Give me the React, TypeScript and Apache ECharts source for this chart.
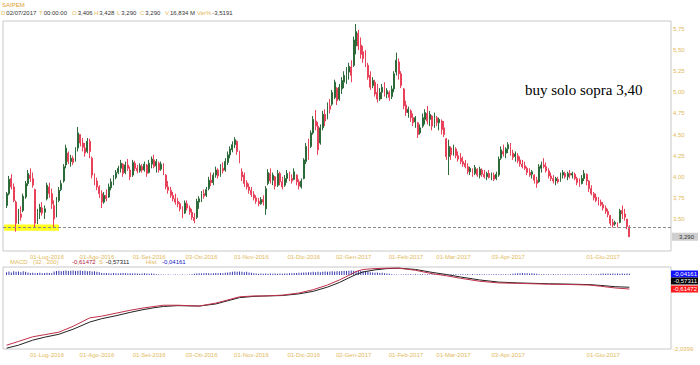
import React, { useEffect, useRef } from 'react';
import * as echarts from 'echarts';

// ---------------- data ----------------
const startDate = '2016-06-08';
const holidays = ['2016-08-15', '2016-12-26', '2017-04-14', '2017-04-17', '2017-05-01'];
const padAfter = 17;
const labelDates = ['2016-07-01', '2016-08-01', '2016-09-01', '2016-10-03', '2016-11-01', '2016-12-01', '2017-01-02', '2017-02-01', '2017-03-01', '2017-04-03', '2017-06-01'];
const monthsIt = ['Gen', 'Feb', 'Mar', 'Apr', 'Mag', 'Giu', 'Lug', 'Ago', 'Set', 'Ott', 'Nov', 'Dic'];
const priceTicks = [3.5, 3.75, 4.0, 4.25, 4.5, 4.75, 5.0, 5.25, 5.5, 5.75];
const macdTicks = [-2.0399];
const buyLevel = 3.40;
const lastClose = 3.29;

// [open, close, low, high]
const ohlc: number[][] = [
  [3.66, 3.80, 3.63, 3.82], [3.80, 3.97, 3.78, 4.01], [3.98, 3.88, 3.85, 4.03], [3.88, 3.72, 3.70, 3.92], [3.70, 3.45, 3.35, 3.72],
  [3.47, 3.58, 3.44, 3.62], [3.56, 3.52, 3.48, 3.65], [3.60, 3.77, 3.58, 3.80], [3.76, 3.92, 3.74, 3.95], [3.92, 4.04, 3.89, 4.08],
  [4.02, 3.98, 3.94, 4.10], [3.98, 3.90, 3.87, 4.05], [3.85, 3.45, 3.40, 3.86], [3.47, 3.58, 3.44, 3.62], [3.58, 3.64, 3.50, 3.68],
  [3.63, 3.57, 3.54, 3.70], [3.58, 3.62, 3.50, 3.66], [3.74, 3.90, 3.72, 3.93], [3.88, 3.80, 3.75, 3.93], [3.80, 3.68, 3.62, 3.86],
  [3.66, 3.50, 3.40, 3.72], [3.55, 3.72, 3.52, 3.76], [3.72, 3.84, 3.70, 3.88], [3.85, 3.92, 3.83, 3.96], [3.95, 4.12, 3.93, 4.15],
  [4.14, 4.34, 4.10, 4.38], [4.28, 4.18, 4.15, 4.30], [4.18, 4.22, 4.12, 4.26], [4.22, 4.17, 4.14, 4.25], [4.20, 4.33, 4.18, 4.35],
  [4.34, 4.52, 4.30, 4.59], [4.50, 4.40, 4.36, 4.50], [4.40, 4.35, 4.30, 4.46], [4.34, 4.28, 4.24, 4.40], [4.30, 4.42, 4.28, 4.46],
  [4.42, 4.30, 4.22, 4.45], [4.22, 4.02, 3.98, 4.24], [4.02, 3.94, 3.90, 4.04], [3.95, 3.88, 3.84, 3.99], [3.88, 3.80, 3.75, 3.90],
  [3.80, 3.70, 3.63, 3.84], [3.70, 3.78, 3.68, 3.82], [3.78, 3.74, 3.71, 3.85], [3.76, 3.88, 3.75, 3.92], [3.87, 3.94, 3.84, 3.98],
  [3.93, 3.99, 3.90, 4.02], [3.99, 4.05, 3.97, 4.08], [4.05, 4.10, 4.03, 4.13], [4.10, 4.16, 4.05, 4.20], [4.15, 4.04, 4.00, 4.16],
  [4.05, 4.14, 4.03, 4.18], [4.14, 4.10, 4.07, 4.21], [4.08, 4.00, 3.96, 4.12], [4.02, 4.17, 4.00, 4.20], [4.16, 4.10, 4.07, 4.19],
  [4.10, 4.07, 4.04, 4.14], [4.07, 4.13, 4.05, 4.16], [4.12, 4.08, 4.05, 4.15], [4.08, 4.15, 4.06, 4.18], [4.14, 4.04, 4.00, 4.15],
  [4.05, 4.16, 4.04, 4.20], [4.15, 4.21, 4.10, 4.24], [4.20, 4.12, 4.10, 4.26], [4.13, 4.18, 4.05, 4.21], [4.16, 4.08, 4.05, 4.18],
  [4.09, 4.15, 4.07, 4.18], [4.14, 4.05, 4.02, 4.16], [4.02, 3.88, 3.85, 4.03], [3.88, 3.84, 3.80, 3.95], [3.84, 3.78, 3.75, 3.88],
  [3.78, 3.74, 3.71, 3.82], [3.74, 3.70, 3.67, 3.80], [3.71, 3.68, 3.64, 3.75], [3.68, 3.62, 3.59, 3.70], [3.62, 3.56, 3.51, 3.65],
  [3.57, 3.69, 3.56, 3.72], [3.68, 3.63, 3.60, 3.72], [3.63, 3.58, 3.55, 3.66], [3.58, 3.52, 3.49, 3.62], [3.52, 3.48, 3.45, 3.57],
  [3.52, 3.71, 3.50, 3.74], [3.70, 3.74, 3.62, 3.77], [3.73, 3.80, 3.70, 3.83], [3.80, 3.77, 3.74, 3.85], [3.78, 3.85, 3.76, 3.88],
  [3.86, 3.96, 3.84, 4.00], [3.96, 3.93, 3.89, 4.05], [3.93, 4.02, 3.90, 4.05], [4.02, 4.08, 3.99, 4.12], [4.08, 4.01, 3.98, 4.10],
  [4.02, 4.11, 4.00, 4.15], [4.10, 4.07, 4.04, 4.17], [4.08, 4.18, 4.06, 4.22], [4.17, 4.26, 4.14, 4.30], [4.26, 4.33, 4.22, 4.36],
  [4.32, 4.38, 4.29, 4.42], [4.38, 4.44, 4.34, 4.47], [4.42, 4.30, 4.26, 4.43], [4.30, 4.18, 4.16, 4.31], [4.06, 4.00, 3.95, 4.10],
  [4.02, 3.92, 3.88, 4.05], [3.93, 3.88, 3.85, 3.96], [3.88, 3.84, 3.80, 3.92], [3.84, 3.79, 3.76, 3.88], [3.79, 3.75, 3.72, 3.83],
  [3.75, 3.71, 3.68, 3.78], [3.71, 3.68, 3.65, 3.75], [3.68, 3.73, 3.67, 3.76], [3.73, 3.70, 3.66, 3.78], [3.62, 3.86, 3.55, 3.89],
  [3.92, 4.05, 3.90, 4.09], [4.04, 3.95, 3.92, 4.10], [3.96, 4.02, 3.90, 4.05], [4.00, 3.89, 3.85, 4.01], [3.90, 4.04, 3.88, 4.08],
  [4.04, 3.94, 3.90, 4.06], [3.94, 3.88, 3.85, 4.00], [3.90, 3.98, 3.88, 4.02], [3.98, 4.04, 3.93, 4.08], [4.03, 3.98, 3.95, 4.06],
  [3.98, 3.95, 3.92, 4.03], [3.97, 4.06, 3.96, 4.10], [4.02, 3.94, 3.90, 4.03], [3.94, 3.89, 3.85, 3.97], [3.88, 3.95, 3.86, 3.98],
  [3.98, 4.20, 3.97, 4.22], [4.18, 4.36, 4.15, 4.40], [4.35, 4.24, 4.20, 4.45], [4.36, 4.52, 4.34, 4.55], [4.52, 4.68, 4.50, 4.72],
  [4.66, 4.60, 4.55, 4.79], [4.60, 4.32, 4.26, 4.65], [4.40, 4.58, 4.38, 4.62], [4.58, 4.74, 4.55, 4.78], [4.74, 4.66, 4.60, 4.80],
  [4.70, 4.84, 4.68, 4.88], [4.84, 4.80, 4.75, 4.92], [4.86, 5.00, 4.84, 5.03], [4.94, 5.12, 4.92, 5.15], [5.05, 4.90, 4.85, 5.06],
  [4.92, 5.06, 4.90, 5.10], [5.04, 5.14, 4.98, 5.18], [5.12, 5.20, 5.05, 5.25], [5.20, 5.26, 5.10, 5.30], [5.24, 5.31, 5.15, 5.35],
  [5.30, 5.20, 5.12, 5.38], [5.32, 5.62, 5.30, 5.66], [5.55, 5.72, 5.45, 5.81], [5.70, 5.55, 5.50, 5.74], [5.56, 5.45, 5.40, 5.65],
  [5.48, 5.40, 5.35, 5.55], [5.42, 5.34, 5.30, 5.50], [5.32, 5.18, 5.15, 5.35], [5.20, 5.06, 5.03, 5.25], [5.08, 5.14, 5.05, 5.18],
  [5.12, 4.98, 4.95, 5.15], [5.00, 4.92, 4.88, 5.10], [4.92, 5.00, 4.90, 5.05], [5.00, 5.06, 4.92, 5.10], [5.05, 4.98, 4.95, 5.12],
  [4.98, 5.02, 4.93, 5.05], [5.00, 4.94, 4.90, 5.02], [4.95, 5.04, 4.92, 5.08], [5.04, 5.22, 5.00, 5.25], [5.24, 5.38, 5.20, 5.47],
  [5.36, 5.22, 5.15, 5.40], [5.22, 5.08, 5.05, 5.25], [5.04, 4.84, 4.80, 5.05], [4.85, 4.76, 4.72, 4.90], [4.76, 4.80, 4.70, 4.83],
  [4.78, 4.70, 4.65, 4.80], [4.70, 4.64, 4.60, 4.75], [4.65, 4.70, 4.58, 4.72], [4.64, 4.50, 4.46, 4.65], [4.52, 4.58, 4.50, 4.62],
  [4.60, 4.70, 4.58, 4.75], [4.68, 4.76, 4.62, 4.80], [4.75, 4.66, 4.62, 4.84], [4.68, 4.74, 4.60, 4.78], [4.72, 4.60, 4.55, 4.73],
  [4.62, 4.72, 4.58, 4.76], [4.70, 4.64, 4.60, 4.72], [4.64, 4.68, 4.55, 4.70], [4.66, 4.56, 4.50, 4.68], [4.58, 4.50, 4.47, 4.66],
  [4.45, 4.24, 4.20, 4.46], [4.24, 4.36, 4.02, 4.44], [4.34, 4.26, 4.20, 4.36], [4.27, 4.34, 4.25, 4.38], [4.33, 4.25, 4.22, 4.35],
  [4.25, 4.21, 4.18, 4.30], [4.22, 4.18, 4.15, 4.28], [4.18, 4.15, 4.12, 4.24], [4.16, 4.12, 4.10, 4.20], [4.12, 4.06, 4.03, 4.16],
  [4.06, 4.10, 4.02, 4.12], [4.08, 4.03, 4.00, 4.10], [4.04, 4.11, 4.02, 4.14], [4.09, 4.02, 4.00, 4.10], [4.02, 4.09, 3.98, 4.12],
  [4.08, 4.03, 4.00, 4.10], [4.03, 4.00, 3.98, 4.08], [4.00, 4.04, 3.96, 4.06], [4.04, 3.99, 3.98, 4.08], [4.00, 4.03, 3.96, 4.05],
  [4.02, 3.97, 3.95, 4.05], [3.98, 4.03, 3.96, 4.06], [4.02, 4.21, 4.00, 4.24], [4.22, 4.32, 4.20, 4.36], [4.30, 4.27, 4.24, 4.38],
  [4.28, 4.33, 4.22, 4.35], [4.33, 4.38, 4.28, 4.41], [4.36, 4.27, 4.25, 4.40], [4.28, 4.23, 4.20, 4.32], [4.24, 4.27, 4.18, 4.30],
  [4.25, 4.19, 4.16, 4.28], [4.20, 4.15, 4.12, 4.24], [4.15, 4.12, 4.10, 4.20], [4.13, 4.10, 4.08, 4.18], [4.10, 4.05, 4.02, 4.12],
  [4.05, 4.02, 4.00, 4.10], [4.03, 4.06, 3.98, 4.08], [4.02, 3.96, 3.92, 4.03], [3.96, 3.92, 3.87, 4.00], [3.94, 4.12, 3.93, 4.15],
  [4.10, 4.14, 4.05, 4.18], [4.14, 4.12, 4.10, 4.22], [4.12, 4.07, 4.05, 4.17], [4.07, 4.01, 3.98, 4.10], [4.01, 3.98, 3.95, 4.05],
  [3.98, 3.95, 3.92, 4.02], [3.95, 3.98, 3.90, 4.00], [3.97, 3.94, 3.92, 4.00], [3.95, 4.02, 3.94, 4.05], [4.02, 4.05, 3.98, 4.08],
  [4.04, 4.00, 3.98, 4.06], [4.00, 4.04, 3.96, 4.06], [4.04, 4.02, 3.98, 4.08], [4.02, 4.04, 3.98, 4.06], [4.03, 3.98, 3.96, 4.05],
  [3.98, 3.93, 3.90, 4.00], [3.93, 3.90, 3.88, 3.98], [3.92, 3.98, 3.91, 4.02], [3.98, 4.04, 3.95, 4.08], [4.03, 3.95, 3.90, 4.04],
  [3.95, 3.86, 3.82, 3.96], [3.86, 3.80, 3.78, 3.90], [3.80, 3.75, 3.72, 3.82], [3.76, 3.72, 3.70, 3.80], [3.73, 3.69, 3.66, 3.76],
  [3.70, 3.67, 3.65, 3.73], [3.67, 3.63, 3.60, 3.70], [3.63, 3.59, 3.56, 3.66], [3.59, 3.55, 3.52, 3.62], [3.54, 3.45, 3.42, 3.55],
  [3.46, 3.43, 3.40, 3.50], [3.44, 3.46, 3.42, 3.48], [3.45, 3.42, 3.40, 3.46], [3.46, 3.60, 3.45, 3.62], [3.60, 3.56, 3.50, 3.66],
  [3.56, 3.52, 3.48, 3.62], [3.50, 3.41, 3.38, 3.50], [3.406, 3.29, 3.29, 3.428],
];

// [bar index, value]
const macdPts: number[][] = [
  [0, -1.95], [5, -1.86], [11, -1.75], [16, -1.70], [22, -1.64], [28, -1.50], [35, -1.30], [40, -1.26], [46, -1.19],
  [52, -1.12], [57, -1.07], [62, -1.03], [66, -1.00], [72, -1.00], [81, -1.02], [88, -0.95], [98, -0.80], [104, -0.78],
  [109, -0.78], [116, -0.76], [123, -0.71], [129, -0.63], [135, -0.52], [140, -0.40], [144, -0.29], [147, -0.20],
  [150, -0.15], [155, -0.13], [160, -0.12], [165, -0.12], [172, -0.17], [179, -0.25], [185, -0.30], [191, -0.36],
  [199, -0.43], [207, -0.47], [215, -0.48], [228, -0.50], [238, -0.51], [245, -0.52], [250, -0.55], [256, -0.59], [262, -0.61472],
];
const signalPts: number[][] = [
  [0, -2.02], [5, -1.95], [11, -1.83], [16, -1.76], [22, -1.69], [28, -1.57], [35, -1.40], [40, -1.32], [46, -1.25],
  [52, -1.17], [57, -1.11], [62, -1.06], [66, -1.03], [72, -1.01], [81, -1.02], [88, -0.97], [98, -0.82], [104, -0.79],
  [109, -0.78], [116, -0.77], [123, -0.73], [129, -0.67], [135, -0.57], [140, -0.46], [144, -0.35], [147, -0.27],
  [150, -0.21], [155, -0.16], [160, -0.13], [165, -0.12], [172, -0.15], [179, -0.22], [185, -0.27], [191, -0.33],
  [199, -0.40], [207, -0.45], [215, -0.47], [228, -0.49], [238, -0.50], [245, -0.51], [250, -0.53], [256, -0.56], [262, -0.57311],
];
// histogram magnitude per bar
const hist: number[] = [
  0.10, 0.12, 0.09, 0.13, 0.11, 0.12, 0.10, 0.13, 0.11, 0.09,
  0.07, 0.08, 0.06, 0.07, 0.08, 0.06, 0.07, 0.08, 0.07, 0.06,
  0.12, 0.14, 0.15, 0.13, 0.15, 0.16, 0.14, 0.15, 0.16, 0.14,
  0.15, 0.16, 0.14, 0.15, 0.13, 0.14, 0.12, 0.13, 0.11, 0.10,
  0.07, 0.06, 0.07, 0.06, 0.05, 0.07, 0.06, 0.05, 0.06, 0.07,
  0.06, 0.05, 0.06, 0.05, 0.06, 0.05, 0.04, 0.05, 0.06, 0.05,
  0.04, 0.05, 0.04, 0.03, 0.02, 0.02, 0.02, 0.01, 0.02, 0.01,
  0.01, 0.02, 0.01, 0.01, 0.02, 0.01, 0.01, 0.02, 0.03, 0.04,
  0.05, 0.06, 0.05, 0.06, 0.07, 0.06, 0.05, 0.06, 0.07, 0.06,
  0.07, 0.06, 0.08, 0.09, 0.10, 0.11, 0.12, 0.11, 0.12, 0.11,
  0.10, 0.11, 0.09, 0.08, 0.06, 0.05, 0.04, 0.05, 0.04, 0.05,
  0.04, 0.05, 0.04, 0.05, 0.04, 0.05, 0.04, 0.05, 0.05, 0.06,
  0.06, 0.07, 0.07, 0.08, 0.08, 0.09, 0.09, 0.10, 0.10, 0.11,
  0.10, 0.11, 0.10, 0.11, 0.12, 0.11, 0.12, 0.13, 0.12, 0.13,
  0.13, 0.14, 0.15, 0.14, 0.15, 0.16, 0.15, 0.14, 0.15, 0.14,
  0.13, 0.14, 0.12, 0.10, 0.09, 0.08, 0.09, 0.07, 0.08, 0.06,
  0.05, 0.04, 0.03, 0.02, 0.02, 0.01, 0.02, 0.02, 0.03, 0.02,
  0.03, 0.02, 0.03, 0.02, 0.03, 0.03, 0.02, 0.03, 0.02, 0.03,
  0.03, 0.02, 0.03, 0.03, 0.02, 0.03, 0.02, 0.03, 0.02, 0.03,
  0.02, 0.03, 0.03, 0.02, 0.03, 0.02, 0.03, 0.02, 0.03, 0.03,
  0.02, 0.03, 0.02, 0.03, 0.02, 0.03, 0.03, 0.02, 0.03, 0.02,
  0.03, 0.02, 0.03, 0.04, 0.05, 0.06, 0.06, 0.07, 0.06, 0.06,
  0.05, 0.06, 0.05, 0.04, 0.03, 0.02, 0.03, 0.02, 0.03, 0.02,
  0.03, 0.02, 0.03, 0.02, 0.02, 0.03, 0.02, 0.03, 0.02, 0.02,
  0.03, 0.02, 0.03, 0.02, 0.03, 0.02, 0.03, 0.02, 0.03, 0.03,
  0.04, 0.05, 0.04, 0.05, 0.04, 0.05, 0.04, 0.05, 0.04, 0.05,
  0.04, 0.05, 0.04,
];

const headerItems = [
  { k: 'D', v: '02/07/2017', x: 1 },
  { k: 'T', v: '00:00:00', x: 39 },
  { k: 'O', v: '3,406', x: 72 },
  { k: 'H', v: '3,428', x: 94 },
  { k: 'L', v: '3,290', x: 117 },
  { k: 'C', v: '3,290', x: 140 },
  { k: 'V', v: '16,834 M', x: 165 },
  { k: 'Var%', v: '-3,5191', x: 197 },
];
const macdLegend = [
  { t: 'MACD', c: 'gold', x: 10 },
  { t: '(32 , 200)', c: 'gold', x: 33 },
  { t: '-0,61472', c: '#b0203a', x: 72 },
  { t: 'S', c: 'gold', x: 99 },
  { t: '-0,57311', c: '#222222', x: 106 },
  { t: 'Hist', c: 'gold', x: 146 },
  { t: '-0,04161', c: '#2020c0', x: 162 },
];
const macdBoxes = [
  { t: '-0,04161', bg: '#1010ff', y: 274 },
  { t: '-0,57311', bg: '#000000', y: 281 },
  { t: '-0,61472', bg: '#ff1a1a', y: 289 },
];

// ---------------- helpers ----------------
function buildDates(n: number): string[] {
  const out: string[] = [];
  const d = new Date(startDate + 'T00:00:00Z');
  while (out.length < n) {
    const wd = d.getUTCDay();
    const s = d.toISOString().slice(0, 10);
    if (wd !== 0 && wd !== 6 && holidays.indexOf(s) < 0) out.push(s);
    d.setUTCDate(d.getUTCDate() + 1);
  }
  return out;
}
function fmtDate(s: string): string {
  if (!s) return '';
  const [y, m, d] = s.split('-');
  return d + '-' + monthsIt[parseInt(m, 10) - 1] + '-' + y;
}
const comma = (v: number, dp: number) => v.toFixed(dp).replace('.', ',');

const GOLD = '#e2b95c';
const FONT = 'Liberation Sans, Arial, sans-serif';

export default function App() {
  const ref = useRef<HTMLDivElement>(null);
  useEffect(() => {
    if (!ref.current) return;
    const chart = echarts.init(ref.current, undefined, { renderer: 'svg' });
    const dates = buildDates(ohlc.length + padAfter);
    const categories = [''].concat(dates);
    const candleData: any[] = [['-', '-', '-', '-']].concat(ohlc as any);
    const histData: any[] = ['-'].concat(hist as any);
    const macdData = macdPts.map(([i, v]) => [i + 1, v]);
    const sigData = signalPts.map(([i, v]) => [i + 1, v]);
    const xLabel = {
      interval: (_i: number, v: string) => labelDates.indexOf(v) >= 0,
      formatter: (v: string) => fmtDate(v),
      color: GOLD,
      fontSize: 6,
      fontFamily: FONT,
      margin: 3,
    };

    const graphics: any[] = [
      { type: 'text', left: 2, top: 2, style: { text: 'SAIPEM', fill: '#e0a030', fontSize: 6, fontFamily: FONT } },
      ...headerItems.map((h) => ({
        type: 'text', x: h.x, y: 13,
        style: {
          text: '{k|' + h.k + '}{v|' + h.v + '}', verticalAlign: 'middle',
          rich: {
            k: { fill: GOLD, fontSize: 6, fontFamily: FONT, padding: [0, 1, 0, 0] },
            v: { fill: '#333333', fontSize: 6, fontFamily: FONT },
          },
        },
      })),
      {
        type: 'text', x: 525, y: 90,
        style: { text: 'buy solo sopra 3,40', fill: '#000', fontSize: 15, fontFamily: 'Liberation Serif, Times New Roman, serif', verticalAlign: 'middle' },
      },
      ...macdLegend.map((m) => ({
        type: 'text', x: m.x, y: 262,
        style: { text: m.t, fill: m.c === 'gold' ? GOLD : m.c, fontSize: 6, fontFamily: FONT, verticalAlign: 'middle' },
      })),
      ...macdBoxes.map((b) => ({
        type: 'group', x: 671, y: b.y,
        children: [
          { type: 'rect', shape: { x: 0, y: -3.5, width: 27, height: 7 }, style: { fill: b.bg } },
          { type: 'text', x: 26, y: 0, style: { text: b.t, fill: '#fff', fontSize: 6, fontFamily: FONT, align: 'right', verticalAlign: 'middle' } },
        ],
      })),
    ];

    chart.setOption({
      animation: false,
      backgroundColor: '#ffffff',
      grid: [
        { left: 3, top: 21, width: 668, height: 230, show: true, borderColor: '#c8c8c8', borderWidth: 1, backgroundColor: 'transparent' },
        { left: 3, top: 267, width: 668, height: 82, show: true, borderColor: '#c8c8c8', borderWidth: 1, backgroundColor: 'transparent' },
      ],
      xAxis: [
        { type: 'category', gridIndex: 0, data: categories, boundaryGap: true, axisLine: { show: false }, axisTick: { show: false }, axisLabel: xLabel, splitLine: { show: false } },
        { type: 'category', gridIndex: 1, data: categories, boundaryGap: true, axisLine: { show: false }, axisTick: { show: false }, axisLabel: xLabel, splitLine: { show: false } },
      ],
      yAxis: [
        {
          type: 'value', gridIndex: 0, position: 'right', min: 3.121, max: 5.845, scale: true,
          axisLine: { show: false }, axisTick: { show: false }, splitLine: { show: false },
          axisLabel: { customValues: priceTicks, formatter: (v: number) => comma(v, 2), color: GOLD, fontSize: 6, fontFamily: FONT, margin: 2 },
        },
        {
          type: 'value', gridIndex: 1, position: 'right', min: -2.0399, max: -0.092, scale: true,
          axisLine: { show: false }, axisTick: { show: false }, splitLine: { show: false },
          axisLabel: { customValues: macdTicks, formatter: (v: number) => comma(v, 4), color: GOLD, fontSize: 6, fontFamily: FONT, margin: 2 },
        },
        { type: 'value', gridIndex: 1, min: -2.59, max: 0.28, show: false },
      ],
      series: [
        {
          type: 'candlestick', xAxisIndex: 0, yAxisIndex: 0, data: candleData, barWidth: 1.4,
          itemStyle: { color: '#2c6a3a', color0: '#e8425a', borderColor: '#2c6a3a', borderColor0: '#e8425a', borderWidth: 1 },
          markArea: {
            silent: true,
            itemStyle: { color: '#ffff00', opacity: 0.9 },
            data: [[{ xAxis: 0, yAxis: 3.36 }, { xAxis: 23, yAxis: 3.435 }]],
          },
          markLine: {
            silent: true, symbol: 'none', animation: false,
            data: [
              { yAxis: buyLevel, lineStyle: { color: '#888888', type: [3, 2], width: 1 }, label: { show: false } },
              {
                yAxis: lastClose, lineStyle: { color: 'rgba(0,0,0,0)', width: 1 },
                label: { show: true, position: 'end', formatter: comma(lastClose, 3), backgroundColor: '#cfcfcf', color: '#333', fontSize: 6, fontFamily: FONT, padding: [1, 4, 1, 7], distance: 1 },
              },
            ],
          },
        },
        {
          type: 'bar', xAxisIndex: 1, yAxisIndex: 2, data: histData, barWidth: 1,
          itemStyle: { color: '#3838b0' },
        },
        {
          type: 'line', xAxisIndex: 1, yAxisIndex: 1, data: sigData, symbol: 'none',
          lineStyle: { color: '#222222', width: 1 },
        },
        {
          type: 'line', xAxisIndex: 1, yAxisIndex: 1, data: macdData, symbol: 'none',
          lineStyle: { color: '#c0304a', width: 1 },
        },
      ],
      graphic: graphics,
    });
    return () => chart.dispose();
  }, []);
  return <div ref={ref} style={{ width: 700, height: 365, position: 'absolute', left: 0, top: 0 }} />;
}
